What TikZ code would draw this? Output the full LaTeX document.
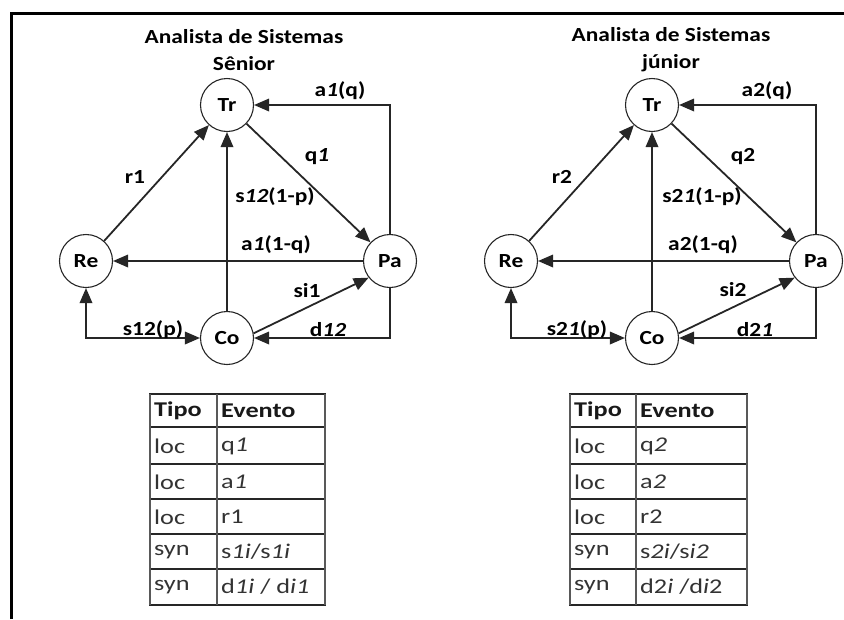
\documentclass[tikz,border=0pt]{standalone}
\usepackage{fontspec}
\setmainfont{Carlito}
\newfontfamily\lblfont[FakeStretch=1.17]{Carlito}
\newfontfamily\tabfont[FakeStretch=1.25]{Carlito}
\usetikzlibrary{arrows.meta}

\tikzset{
  state/.style={circle, draw=black!85, line width=1.1pt, minimum size=53pt, inner sep=0pt,
    font=\lblfont\bfseries\fontsize{20}{24}\selectfont},
  tip/.tip={Triangle[length=15pt,width=12.5pt]},
  edge/.style={draw=black!85, line width=1.8pt, -tip},
  twoway/.style={draw=black!85, line width=1.8pt, tip-tip},
  lbl/.style={inner sep=0pt, font=\lblfont\bfseries\fontsize{20}{24}\selectfont},
  title/.style={inner sep=0pt, align=center, font=\lblfont\bfseries\fontsize{20}{27}\selectfont},
  hline/.style={draw=black!85, line width=1.4pt},
  vline/.style={draw=black!65, line width=2pt},
  cell/.style={anchor=west, inner sep=0pt, text=black!80, font=\tabfont\fontsize{21}{24}\selectfont},
  head/.style={cell, text=black!90, font=\tabfont\bfseries\fontsize{21}{24}\selectfont},
}

\begin{document}
\begin{tikzpicture}[x=1pt, y=-1pt]
\useasboundingbox (0,0) rectangle (844,619);

% frame along the top and left edges
\draw[line width=3pt] (11,619) -- (11,13) -- (844,13);

% ---------------- left automaton ----------------
\node[title] (titleA) at (244,50) {Analista de Sistemas\\Sênior};

\node[state] (Tr) at (227,105) {Tr};
\node[state] (Re) at (86,261) {Re};
\node[state] (Pa) at (390,261) {Pa};
\node[state] (Co) at (227,338) {Co};

\draw[edge] (Re) -- (Tr);
\draw[edge] (Tr) -- (Pa);
\draw[edge] (Co) -- (Tr);
\draw[edge] (Pa) -- (Re);
\draw[edge] (Pa.north) |- (Tr.east);
\draw[edge] (Co.10) -- (Pa.218);
\draw[edge] (Pa.south) |- (Co.east);
\draw[twoway] (Re.south) |- (Co.west);

\node[lbl] (lA1) at (340,91) {a\textit{1}(q)};
\node[lbl] (lA2) at (317,157) {q\textit{1}};
\node[lbl] (lA3) at (135,177) {r1};
\node[lbl] (lA4) at (275,197) {s\textit{12}(1-p)};
\node[lbl] (lA5) at (276,245) {a\textit{1}(1-q)};
\node[lbl] (lA6) at (307,291) {si1};
\node[lbl] (lA7) at (153,330) {s12(p)};
\node[lbl] (lA8) at (328,330) {d\textit{12}};

% event table of the senior analyst
\draw[hline] (150,394) rectangle (325,605);
\foreach \y in {427,464,499,534,569} \draw[hline] (150,\y) -- (325,\y);
\draw[vline] (150,394) -- (150,605);
\draw[vline] (217,394) -- (217,605);
\draw[vline] (325,394) -- (325,605);

\node[head] (tA0a) at (154,411) {Tipo};
\node[head] (tA0b) at (221,411) {Evento};
\node[cell] (tA1a) at (154,446) {loc};
\node[cell] (tA1b) at (221,446) {q\textit{1}};
\node[cell] (tA2a) at (154,482) {loc};
\node[cell] (tA2b) at (221,482) {a\textit{1}};
\node[cell] (tA3a) at (154,517) {loc};
\node[cell] (tA3b) at (221,517) {r1};
\node[cell] (tA4a) at (154,552) {syn};
\node[cell] (tA4b) at (221,552) {s\textit{1i}/s\textit{1i}};
\node[cell] (tA5a) at (154,587) {syn};
\node[cell] (tA5b) at (221,587) {d\textit{1i} / d\textit{i1}};

% ---------------- right automaton ----------------
\node[title] (titleB) at (671,50) {Analista de Sistemas\\júnior};

\node[state] (Tr2) at (652,105) {Tr};
\node[state] (Re2) at (511,261) {Re};
\node[state] (Pa2) at (816,261) {Pa};
\node[state] (Co2) at (652,338) {Co};

\draw[edge] (Re2) -- (Tr2);
\draw[edge] (Tr2) -- (Pa2);
\draw[edge] (Co2) -- (Tr2);
\draw[edge] (Pa2) -- (Re2);
\draw[edge] (Pa2.north) |- (Tr2.east);
\draw[edge] (Co2.10) -- (Pa2.218);
\draw[edge] (Pa2.south) |- (Co2.east);
\draw[twoway] (Re2.south) |- (Co2.west);

\node[lbl] (lB1) at (767,91) {a2(q)};
\node[lbl] (lB2) at (743,157) {q2};
\node[lbl] (lB3) at (562,177) {r2};
\node[lbl] (lB4) at (702,197) {s2\textit{1}(1-p)};
\node[lbl] (lB5) at (703,245) {a2(1-q)};
\node[lbl] (lB6) at (733,290) {si2};
\node[lbl] (lB7) at (577,330) {s2\textit{1}(p)};
\node[lbl] (lB8) at (755,330) {d2\textit{1}};

% event table of the junior analyst
\draw[hline] (570,394) rectangle (747,605);
\foreach \y in {427,464,499,534,569} \draw[hline] (570,\y) -- (747,\y);
\draw[vline] (570,394) -- (570,605);
\draw[vline] (636,394) -- (636,605);
\draw[vline] (747,394) -- (747,605);

\node[head] (tB0a) at (574,411) {Tipo};
\node[head] (tB0b) at (640,411) {Evento};
\node[cell] (tB1a) at (574,446) {loc};
\node[cell] (tB1b) at (640,446) {q\textit{2}};
\node[cell] (tB2a) at (574,482) {loc};
\node[cell] (tB2b) at (640,482) {a\textit{2}};
\node[cell] (tB3a) at (574,517) {loc};
\node[cell] (tB3b) at (640,517) {r2};
\node[cell] (tB4a) at (574,552) {syn};
\node[cell] (tB4b) at (640,552) {s\textit{2i}/s\textit{i2}};
\node[cell] (tB5a) at (574,587) {syn};
\node[cell] (tB5b) at (640,587) {d2\textit{i} /d\textit{i}2};
\end{tikzpicture}
\end{document}
